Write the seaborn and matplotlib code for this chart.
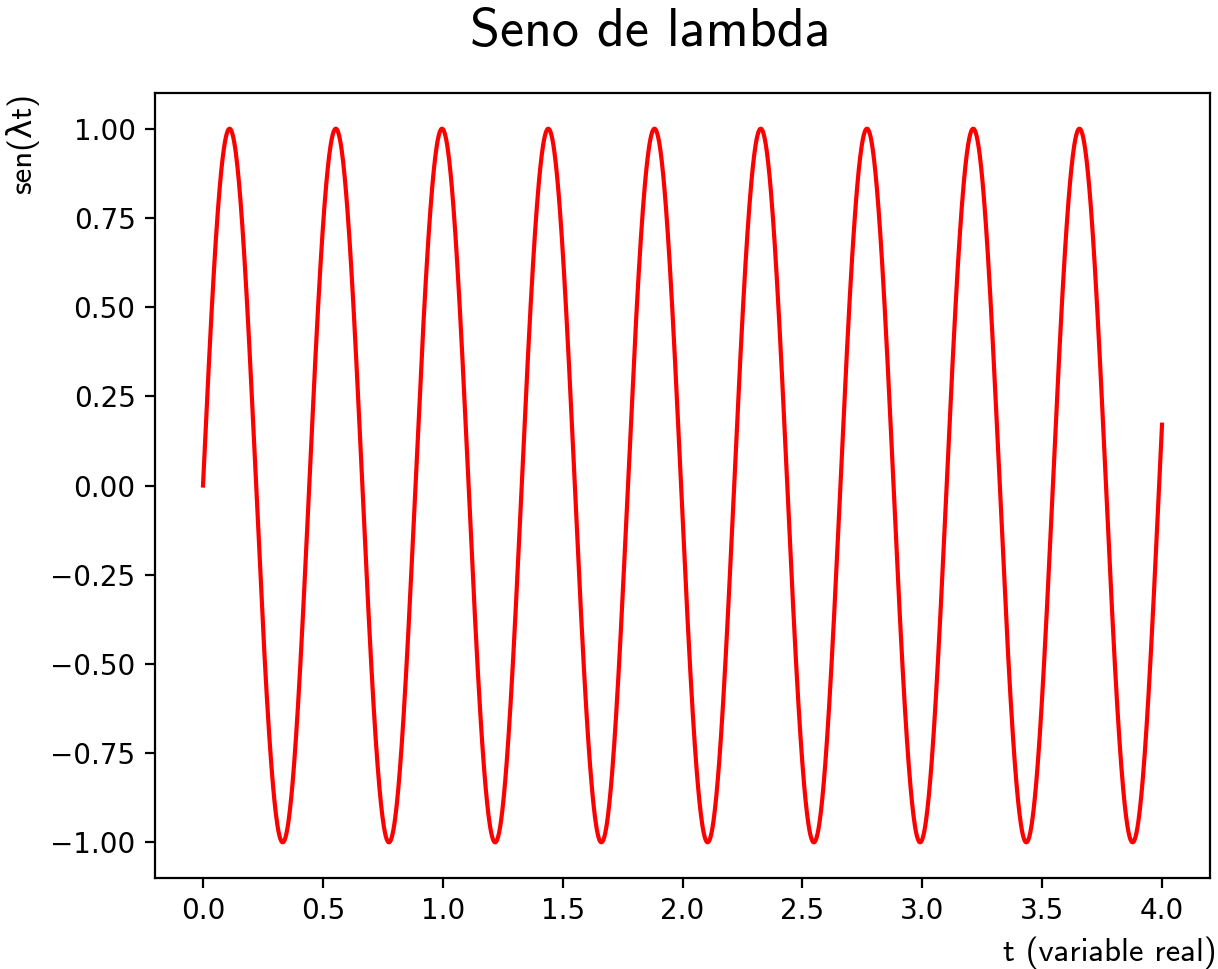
import numpy as np
import pandas as pd
import matplotlib
matplotlib.use("Agg")
import matplotlib.pyplot as plt
import seaborn as sns

# sin(lambda * t) over 0 <= t <= 4
lam = 14.18
t_start = 0.0
t_end = 4.0
n_samples = 2000

t = np.linspace(t_start, t_end, n_samples)
df = pd.DataFrame({"t": t, "y": np.sin(lam * t)})

title_text = "Seno de lambda"
xlabel_text = "t (variable real)"
ylabel_text = "sen(λt)"

label_family = ["cmss10", "DejaVu Sans"]

fig = plt.figure(figsize=(1218 / 200, 969 / 200), dpi=200)
ax = fig.add_axes([0.1273, 0.0939, 0.8661, 0.8101])

sns.lineplot(data=df, x="t", y="y", color="red", linewidth=1.5, ax=ax)

ax.set_title(title_text, family=label_family, fontsize=19.5, pad=17, x=0.47)
ax.set_xlabel(xlabel_text, family=label_family, fontsize=11.8, loc="right")
ax.xaxis.set_label_coords(1.006, -0.075)
ax.set_ylabel(ylabel_text, family=label_family, fontsize=11.8, loc="top")

fig.savefig("out.png", dpi=200)
